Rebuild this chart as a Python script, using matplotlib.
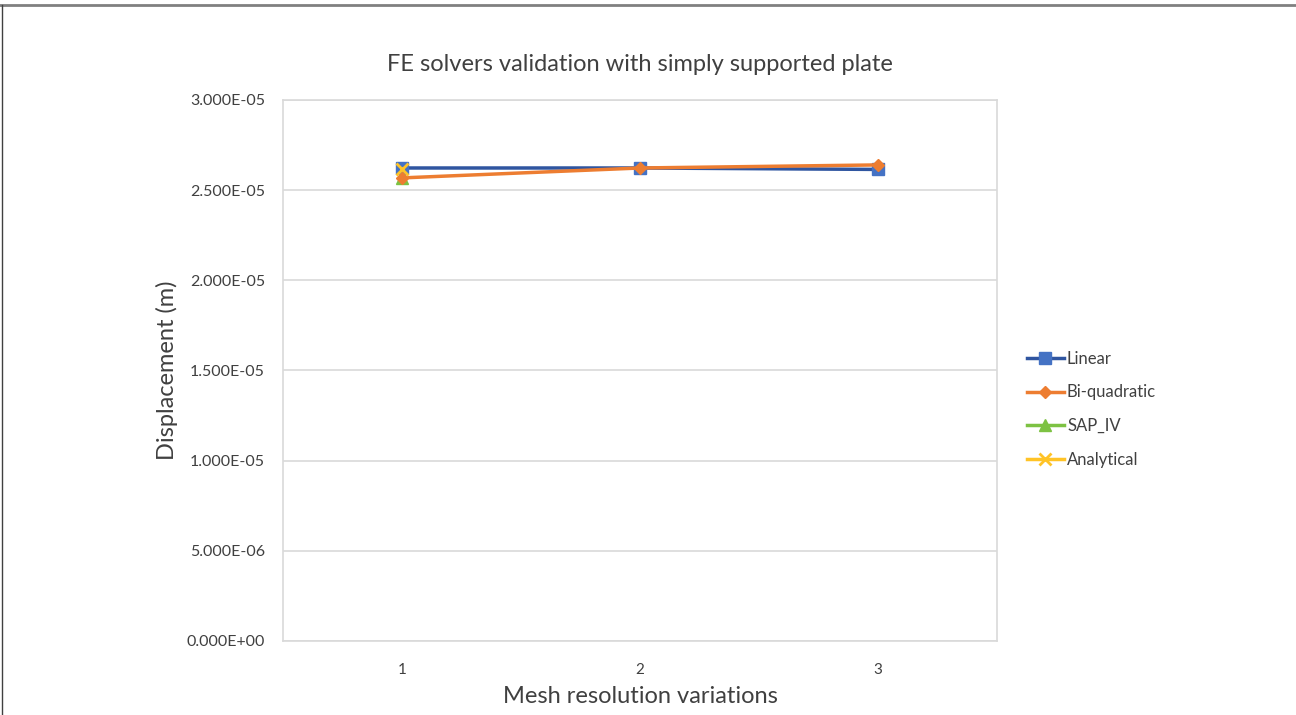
import numpy as np
import matplotlib.pyplot as plt
from matplotlib.lines import Line2D

plt.rcParams['font.family'] = ['Lato', 'DejaVu Sans']

# data
mesh = [1, 2, 3]
linear = [2.623e-05, 2.623e-05, 2.615e-05]
biquad = [2.568e-05, 2.623e-05, 2.640e-05]
sap_iv = [2.568e-05, np.nan, np.nan]
analytical = [2.620e-05, np.nan, np.nan]
yticks = [0, 5e-6, 1e-5, 1.5e-5, 2e-5, 2.5e-5, 3e-5]

fig = plt.figure(figsize=(12.96, 7.15), dpi=100)
ax = fig.add_axes([283/1296, 1 - 641/715, 714/1296, 541/715])

ax.plot(mesh, linear, color="#2F55A0", lw=2.5, marker="s", ms=8, mfc="#4472C4", mec="#4472C4",
        label="Linear", zorder=3)
ax.plot(mesh, biquad, color="#ED7D31", lw=2.5, marker="D", ms=6, label="Bi-quadratic", zorder=4)
ax.plot(mesh, sap_iv, color="#7DC243", lw=2.5, marker="^", ms=8, label="SAP_IV", zorder=2)
ax.plot(mesh, analytical, color="#FFC326", lw=2.5, marker="x", ms=8, mew=2, label="Analytical", zorder=5)

ax.set_xlim(0.5, 3.5)
ax.set_ylim(0, 3e-5)
ax.set_xticks(mesh)
ax.set_xticklabels([str(m) for m in mesh], fontsize=11, color="#404040")
ax.set_yticks(yticks)
ax.set_yticklabels(["%.3E" % v for v in yticks], fontsize=11.5, color="#404040")
ax.tick_params(length=0, pad=16)
ax.tick_params(axis="y", pad=13)
ax.grid(axis="y", color="#d9d9d9", lw=1.2)
ax.set_axisbelow(True)
for s in ax.spines.values():
    s.set_color("#d9d9d9"); s.set_linewidth(1.2)

ax.set_title("FE solvers validation with simply supported plate", fontsize=17, color="#404040", pad=21)
ax.set_xlabel("Mesh resolution variations", fontsize=17, color="#404040", labelpad=6)
ax.set_ylabel("Displacement (m)", fontsize=17, color="#404040", labelpad=6)

ax.legend(loc="upper left", bbox_to_anchor=(1012/1296, 1 - 336/715), bbox_transform=fig.transFigure,
          frameon=False, fontsize=12, labelspacing=1.05, handlelength=2.2, handletextpad=0.2,
          labelcolor="#404040")

# outer border of the chart frame
fig.add_artist(Line2D([0, 1], [1 - 5/715, 1 - 5/715], color="#808080", lw=2, transform=fig.transFigure))
fig.add_artist(Line2D([2/1296, 2/1296], [0, 1 - 5/715], color="#404040", lw=1, transform=fig.transFigure))

plt.savefig("out.png", dpi=100)
